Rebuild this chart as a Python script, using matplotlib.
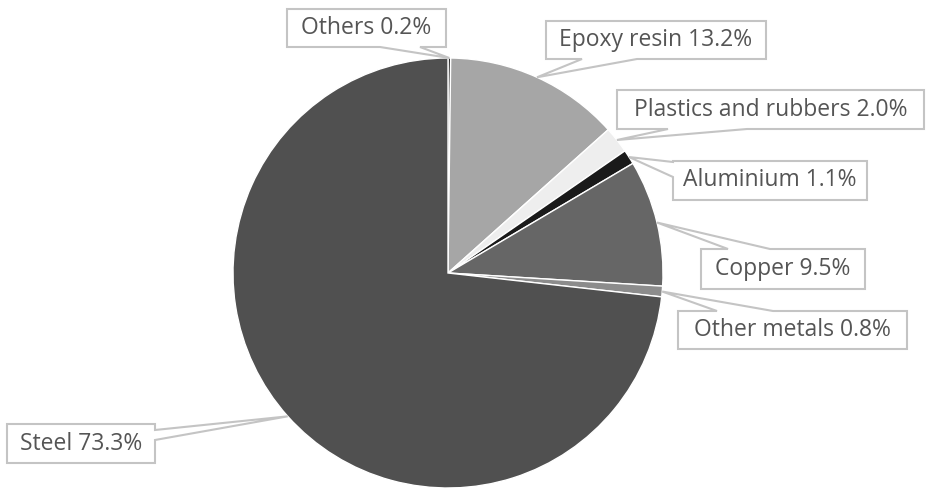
import numpy as np
import matplotlib.pyplot as plt
from matplotlib.patches import Polygon

labels = ["Others", "Epoxy resin", "Plastics and rubbers", "Aluminium",
          "Copper", "Other metals", "Steel"]
shares = [0.2, 13.2, 2.0, 1.1, 9.5, 0.8, 73.3]
colors = ["#262626", "#a6a6a6", "#eeeeee", "#1a1a1a", "#666666", "#8c8c8c", "#505050"]

# callout boxes in pixel coords (x0, y0, x1, y1), side of the pointer, pointer base
boxes = [
    ((287, 9, 446, 47), "bottom", (380, 420)),
    ((546, 21, 766, 59), "bottom", (582, 637)),
    ((617, 90, 924, 129), "bottom", (668, 747)),
    ((673, 161, 867, 200), "left", (162, 177)),
    ((701, 249, 865, 289), "top", (728, 770)),
    ((678, 311, 907, 349), "top", (717, 773)),
    ((7, 424, 155, 463), "right", (430, 440)),
]

W, H = 926, 490
CX, CY, R = 448, 273, 215

plt.rcParams['font.family'] = ['Open Sans', 'DejaVu Sans']

fig = plt.figure(figsize=(W / 100, H / 100), dpi=100)
ax = fig.add_axes([0, 0, 1, 1])


def py(y):
    return H - y


wedges, _ = ax.pie(shares, colors=colors, startangle=90, counterclock=False,
                   center=(CX, py(CY)), radius=R,
                   wedgeprops=dict(edgecolor='white', linewidth=1))
# pie resets the limits, so set them afterwards
ax.set_xlim(0, W)
ax.set_ylim(0, H)
ax.set_aspect('equal')
ax.axis('off')

for w, lab, val, (box, side, (a, b)) in zip(wedges, labels, shares, boxes):
    mid = np.deg2rad((w.theta1 + w.theta2) / 2)
    tip = (CX + R * np.cos(mid), py(CY) + R * np.sin(mid))
    x0, y0, x1, y1 = box
    # screen order: TL, TR, BR, BL with a notch on one side
    pts = [(x0, py(y0))]
    if side == "top":
        pts += [(a, py(y0)), tip, (b, py(y0))]
    pts += [(x1, py(y0))]
    if side == "right":
        pts += [(x1, py(a)), tip, (x1, py(b))]
    pts += [(x1, py(y1))]
    if side == "bottom":
        pts += [(b, py(y1)), tip, (a, py(y1))]
    pts += [(x0, py(y1))]
    if side == "left":
        pts += [(x0, py(b)), tip, (x0, py(a))]
    ax.add_patch(Polygon(pts, closed=True, facecolor='white', edgecolor='#c4c4c4',
                         linewidth=1.5, zorder=3))
    ax.text((x0 + x1) / 2, py((y0 + y1) / 2), f"{lab} {val:.1f}%",
            ha='center', va='center', fontsize=16.5, color='#555555', zorder=4)

fig.savefig("out.png", dpi=100)
